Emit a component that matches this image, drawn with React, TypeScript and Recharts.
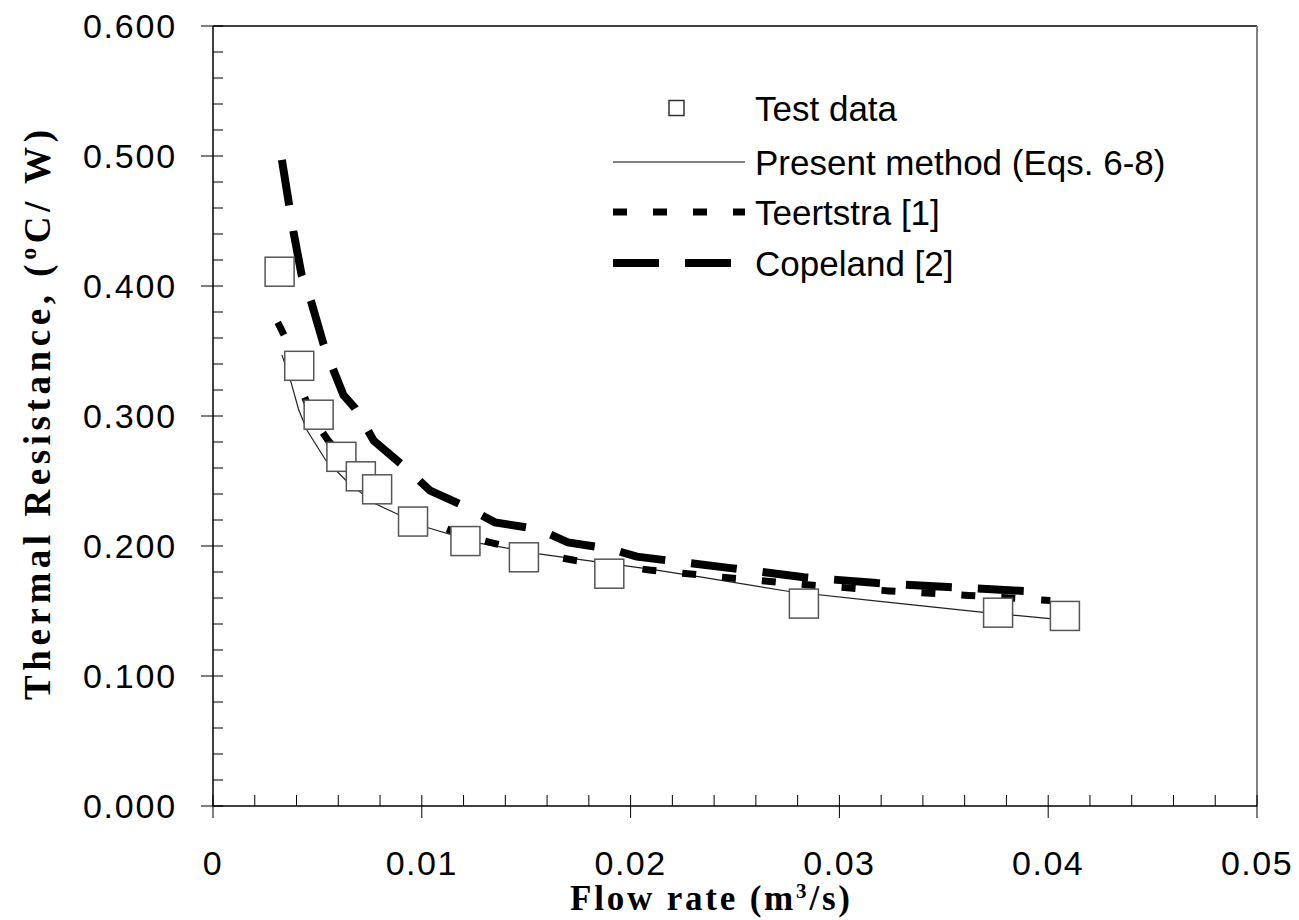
import {
  ComposedChart,
  Legend,
  Line,
  ReferenceLine,
  Scatter,
  XAxis,
  YAxis,
} from "recharts";

// test data (squares)
const testFlow = [0.00319, 0.00413, 0.00506, 0.00615, 0.00708, 0.00786, 0.00958, 0.01209, 0.01489, 0.01898, 0.0283, 0.0376, 0.0408];
const testR = [0.411, 0.3386, 0.301, 0.2686, 0.2536, 0.2436, 0.2188, 0.2038, 0.1913, 0.1787, 0.1557, 0.1487, 0.1462];

// present method (Eqs. 6-8)
const presentFlow = [0.0033, 0.0037, 0.0041, 0.0045, 0.0054, 0.0064, 0.0077, 0.0089, 0.0103, 0.0128, 0.0156, 0.0183, 0.021, 0.0234, 0.0276, 0.0316, 0.0369, 0.0402];
const presentR = [0.347, 0.328, 0.305, 0.289, 0.266, 0.25, 0.233, 0.224, 0.214, 0.202, 0.194, 0.188, 0.182, 0.176, 0.165, 0.158, 0.149, 0.144];

// Teertstra [1]
const teertstraFlow = [0.0031, 0.0036, 0.0042, 0.0048, 0.0055, 0.0065, 0.0075, 0.0085, 0.01, 0.012, 0.0136, 0.0156, 0.0173, 0.0209, 0.0248, 0.0286, 0.0324, 0.0362, 0.0401];
const teertstraR = [0.372, 0.356, 0.322, 0.298, 0.2815, 0.262, 0.246, 0.234, 0.221, 0.208, 0.2015, 0.194, 0.189, 0.1815, 0.1754, 0.17, 0.1654, 0.162, 0.158];

// Copeland [2]
const copelandFlow = [0.0033, 0.00385, 0.00425, 0.0047, 0.0053, 0.0058, 0.00625, 0.0068, 0.0077, 0.0092, 0.0104, 0.0122, 0.0135, 0.0156, 0.017, 0.0191, 0.0203, 0.0248, 0.0283, 0.0318, 0.0352, 0.0398];
const copelandR = [0.497, 0.442, 0.408, 0.388, 0.355, 0.334, 0.316, 0.306, 0.281, 0.2605, 0.2426, 0.2295, 0.2182, 0.2128, 0.2028, 0.1975, 0.1918, 0.183, 0.176, 0.1715, 0.1685, 0.1646];

// axis ticks
const flowTicks = [0, 0.002, 0.004, 0.006, 0.008, 0.01, 0.012, 0.014, 0.016, 0.018, 0.02, 0.022, 0.024, 0.026, 0.028, 0.03, 0.032, 0.034, 0.036, 0.038, 0.04, 0.042, 0.044, 0.046, 0.048, 0.05];
const flowMajor = [0, 0.01, 0.02, 0.03, 0.04, 0.05];
const flowLabels = ["0", "0.01", "0.02", "0.03", "0.04", "0.05"];

const rTicks = [0, 0.02, 0.04, 0.06, 0.08, 0.1, 0.12, 0.14, 0.16, 0.18, 0.2, 0.22, 0.24, 0.26, 0.28, 0.3, 0.32, 0.34, 0.36, 0.38, 0.4, 0.42, 0.44, 0.46, 0.48, 0.5, 0.52, 0.54, 0.56, 0.58, 0.6];
const rMajor = [0, 0.1, 0.2, 0.3, 0.4, 0.5, 0.6];
const rLabels = ["0.000", "0.100", "0.200", "0.300", "0.400", "0.500", "0.600"];

const legendItems = [
  { name: "Test data", kind: "square" },
  { name: "Present method (Eqs. 6-8)", kind: "line", stroke: "#808080", width: 2, dash: undefined },
  { name: "Teertstra [1]", kind: "line", stroke: "#000", width: 7, dash: "14 26" },
  { name: "Copeland [2]", kind: "line", stroke: "#000", width: 8, dash: "46 26" },
];

const toPoints = (xs: number[], ys: number[]) => xs.map((x, i) => ({ x, y: ys[i] }));

const testData = toPoints(testFlow, testR);
const presentData = toPoints(presentFlow, presentR);
const teertstraData = toPoints(teertstraFlow, teertstraR);
const copelandData = toPoints(copelandFlow, copelandR);

const SANS = "'Liberation Sans', Arial, sans-serif";
const SERIF = "'Liberation Serif', 'Times New Roman', serif";

const majorIndex = (list: number[], v: number) => list.findIndex((m) => Math.abs(m - v) < 1e-9);

function FlowTick(props: any) {
  const { x, y, payload } = props;
  const idx = majorIndex(flowMajor, payload.value);
  const major = idx >= 0;
  return (
    <g>
      <line x1={x} x2={x} y1={y - 11} y2={major ? y + 12 : y} stroke="#000" strokeWidth={1} />
      {major && (
        <text x={x} y={y + 69} textAnchor="middle" fontFamily={SANS} fontSize={34} letterSpacing={1.5} fill="#000">
          {flowLabels[idx]}
        </text>
      )}
    </g>
  );
}

function RTick(props: any) {
  const { x, y, payload } = props;
  const idx = majorIndex(rMajor, payload.value);
  const major = idx >= 0;
  return (
    <g>
      <line x1={major ? x - 12 : x} x2={x + 10} y1={y} y2={y} stroke="#000" strokeWidth={1} />
      {major && (
        <text x={x - 36} y={y + 12} textAnchor="end" fontFamily={SANS} fontSize={34} letterSpacing={1.8} fill="#000">
          {rLabels[idx]}
        </text>
      )}
    </g>
  );
}

function YTitle() {
  return (
    <text
      x={50}
      y={415}
      transform="rotate(-90, 50, 415)"
      textAnchor="middle"
      fontFamily={SERIF}
      fontWeight="bold"
      fontSize={37}
      textLength={570}
      lengthAdjust="spacing"
      fill="#000"
    >
      Thermal Resistance, (
      <tspan fontSize={24} dy={-14}>o</tspan>
      <tspan dy={14}>C/ W)</tspan>
    </text>
  );
}

function XTitle() {
  return (
    <text
      x={710}
      y={910}
      textAnchor="middle"
      fontFamily={SERIF}
      fontWeight="bold"
      fontSize={35}
      textLength={280}
      lengthAdjust="spacing"
      fill="#000"
    >
      Flow rate (m
      <tspan fontSize={21} dy={-12}>3</tspan>
      <tspan dy={12}>/s)</tspan>
    </text>
  );
}

function LegendBox() {
  const left = 600;
  const top = 80;
  const rows = [108, 162, 212, 263];
  return (
    <svg width={620} height={220} style={{ overflow: "visible" }}>
      <g transform={`translate(${-left}, ${-top})`}>
        {legendItems.map((item, i) => (
          <g key={item.name}>
            {item.kind === "square" ? (
              <rect x={669} y={rows[i] - 7.5} width={15} height={15} fill="#fff" stroke="#333" strokeWidth={1.5} />
            ) : (
              <line
                x1={613}
                x2={745}
                y1={rows[i]}
                y2={rows[i]}
                stroke={item.stroke}
                strokeWidth={item.width}
                strokeDasharray={item.dash}
              />
            )}
            <text x={755} y={rows[i] + 12.5} fontFamily={SANS} fontSize={35} fill="#000">
              {item.name}
            </text>
          </g>
        ))}
      </g>
    </svg>
  );
}

function Square(props: any) {
  const { cx, cy } = props;
  return <rect x={cx - 14.5} y={cy - 14.5} width={29} height={29} fill="#fff" stroke="#555" strokeWidth={1.5} />;
}

export default function App() {
  return (
    <div style={{ position: "absolute", left: 0, top: 0, background: "#fff" }}>
      <ComposedChart width={1299} height={920} margin={{ top: 26, right: 42, bottom: 54, left: 113 }}>
        <XAxis
          type="number"
          dataKey="x"
          domain={[0, 0.05]}
          ticks={flowTicks}
          interval={0}
          tickSize={0}
          tickMargin={0}
          tickLine={false}
          tick={<FlowTick />}
          axisLine={{ stroke: "#000", strokeWidth: 1.5 }}
          height={60}
          allowDataOverflow
          label={<XTitle />}
        />
        <YAxis
          type="number"
          dataKey="y"
          domain={[0, 0.6]}
          ticks={rTicks}
          interval={0}
          tickSize={0}
          tickMargin={0}
          tickLine={false}
          tick={<RTick />}
          axisLine={{ stroke: "#000", strokeWidth: 1.5 }}
          width={100}
          allowDataOverflow
          label={<YTitle />}
        />
        <ReferenceLine y={0.6} stroke="#000" strokeWidth={1.5} />
        <ReferenceLine x={0.05} stroke="#808080" strokeWidth={2} />
        <Line
          data={presentData}
          dataKey="y"
          type="linear"
          stroke="#222"
          strokeWidth={1.2}
          dot={false}
          isAnimationActive={false}
        />
        <Line
          data={teertstraData}
          dataKey="y"
          type="linear"
          stroke="#000"
          strokeWidth={7}
          strokeDasharray="14 26"
          dot={false}
          isAnimationActive={false}
        />
        <Line
          data={copelandData}
          dataKey="y"
          type="linear"
          stroke="#000"
          strokeWidth={8}
          strokeDasharray="46 26"
          dot={false}
          isAnimationActive={false}
        />
        <Scatter data={testData} dataKey="y" shape={<Square />} isAnimationActive={false} />
        <Legend
          verticalAlign="middle"
          align="center"
          layout="horizontal"
          content={<LegendBox />}
          wrapperStyle={{ position: "absolute", left: 600, top: 80, width: 620, height: 220 }}
        />
      </ComposedChart>
    </div>
  );
}
